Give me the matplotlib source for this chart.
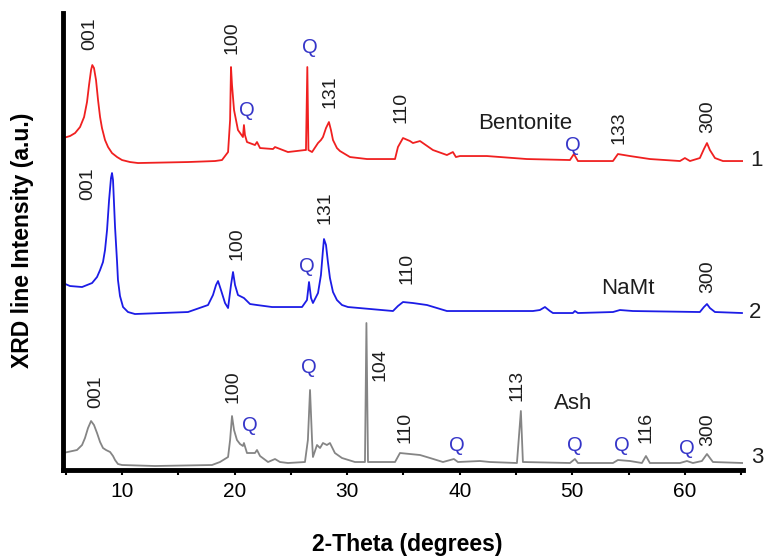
import matplotlib
matplotlib.use("Agg")
import matplotlib.pyplot as plt
from matplotlib.ticker import MultipleLocator

plt.rcParams['font.family'] = ['Liberation Sans', 'DejaVu Sans']

# XRD patterns (2-theta in degrees, intensity a.u. incl. stacking offset)
bent_x = [4.76, 5.38, 5.83, 6.27, 6.63, 6.89, 7.07, 7.25, 7.36, 7.51, 7.69, 7.87, 8.05, 8.22,
          8.49, 8.76, 9.11, 9.56, 10.0, 10.71, 11.42, 15.86, 18.26, 18.88, 19.42, 19.60, 19.68,
          19.77, 19.95, 20.30, 20.74, 20.83, 20.92, 21.10, 21.81, 21.99, 22.26, 23.41, 23.59,
          24.74, 26.25, 26.34, 26.46, 26.56, 26.88, 27.41, 27.67, 27.85, 28.12, 28.38, 28.56,
          28.74, 29.09, 29.36, 30.25, 31.76, 34.25, 34.51, 34.96, 35.58, 35.84, 36.47, 37.62,
          38.86, 39.39, 39.66, 40.02, 42.41, 45.96, 49.79, 50.14, 50.50, 53.61, 54.05, 55.12,
          56.89, 59.56, 60.00, 60.45, 61.33, 61.69, 61.96, 62.22, 62.67, 63.38, 65.16]
bent_y = [330, 332, 335, 341, 351, 366, 383, 398, 403, 400, 388, 368, 351, 340,
          328, 321, 315, 311, 308, 306, 305, 306, 307, 308, 316, 348, 401,
          383, 358, 338, 331, 343, 333, 326, 323, 326, 320, 319, 321,
          316, 318, 318, 401, 318, 316, 325, 328, 331, 340, 346, 338,
          328, 320, 317, 311, 309, 309, 321, 330, 327, 325, 327, 318,
          313, 316, 311, 312, 312, 309, 308, 314, 307, 307, 314, 312,
          309, 307, 310, 307, 310, 319, 325, 318, 310, 307, 307]

namt_x = [4.76, 5.38, 6.45, 7.34, 7.78, 8.05, 8.31, 8.49, 8.67, 8.85, 9.02, 9.11, 9.20, 9.38,
          9.56, 9.64, 9.82, 10.09, 10.53, 11.15, 15.86, 17.64, 18.08, 18.35, 18.53, 18.79,
          19.15, 19.42, 19.68, 19.86, 20.04, 20.30, 20.83, 21.37, 21.99, 23.32, 25.99, 26.43,
          26.61, 26.79, 26.96, 27.41, 27.67, 27.85, 27.94, 28.12, 28.29, 28.47, 28.74, 29.09,
          29.54, 30.07, 34.07, 34.51, 34.96, 35.84, 37.09, 38.86, 46.50, 47.12, 47.57, 48.01,
          48.28, 50.05, 50.23, 50.50, 53.61, 54.23, 55.38, 61.33, 61.69, 61.96, 62.22, 62.67,
          65.07]
namt_y = [185, 182, 181, 185, 191, 198, 206, 218, 238, 268, 290, 295, 288, 241,
          206, 188, 172, 161, 156, 154, 156, 163, 173, 183, 187, 178,
          165, 160, 183, 196, 183, 173, 170, 164, 163, 161, 161, 168,
          186, 170, 165, 175, 193, 218, 229, 223, 206, 190, 176, 168,
          163, 161, 157, 162, 166, 165, 163, 157, 157, 158, 161, 157,
          155, 155, 157, 155, 156, 158, 157, 156, 161, 164, 160, 156,
          155]

ash_x = [4.76, 6.00, 6.45, 6.71, 6.98, 7.25, 7.51, 7.78, 8.05, 8.31, 8.58, 8.94, 9.20, 9.38,
         9.64, 10.0, 12.93, 17.99, 18.70, 19.42, 19.60, 19.77, 19.95, 20.21, 20.48, 20.74,
         20.83, 21.10, 21.81, 21.99, 22.26, 22.97, 23.59, 24.03, 24.74, 26.25, 26.51, 26.70,
         26.88, 26.96, 27.32, 27.59, 27.85, 28.20, 28.47, 28.91, 29.54, 30.69, 31.58, 31.71,
         31.85, 34.25, 34.69, 35.58, 36.47, 37.36, 38.51, 39.48, 39.84, 41.79, 42.68, 45.08,
         45.43, 45.61, 49.79, 50.23, 50.50, 53.61, 54.05, 55.12, 56.18, 56.54, 56.89, 59.56,
         60.18, 60.71, 61.51, 61.96, 62.49, 65.16]
ash_y = [15, 18, 23, 30, 40, 47, 43, 35, 26, 20, 18, 16, 12, 8,
         4, 3, 2, 3, 6, 11, 28, 52, 38, 28, 24, 22,
         25, 15, 15, 18, 12, 6, 9, 6, 5, 6, 28, 78,
         28, 11, 23, 20, 25, 23, 25, 15, 10, 6, 6, 145,
         6, 6, 15, 14, 13, 10, 6, 9, 6, 7, 6, 5,
         57, 6, 5, 9, 5, 5, 8, 7, 5, 12, 5, 5,
         7, 5, 7, 14, 6, 5]

# peak labels: (text, 2-theta, height)
bent_labels = [("001", 7.16, 434), ("100", 19.77, 430), ("131", 28.47, 376), ("110", 34.78, 361),
               ("133", 54.14, 340), ("300", 62.04, 351)]
bent_q = [(26.70, 421), (21.10, 358), (50.05, 323)]
namt_labels = [("001", 6.98, 284), ("100", 20.21, 224), ("131", 28.03, 260), ("110", 35.31, 200),
               ("300", 62.04, 191)]
namt_q = [(26.43, 202)]
ash_labels = [("001", 7.69, 76), ("100", 19.86, 81), ("104", 32.91, 103), ("110", 35.13, 41),
              ("113", 45.08, 83), ("116", 56.54, 41), ("300", 62.04, 38)]
ash_q = [(21.37, 43), (26.61, 101), (39.75, 23), (50.23, 23), (54.41, 23), (60.18, 20)]

names = [("Bentonite", 45.79, 345), ("NaMt", 54.94, 180), ("Ash", 50.05, 65)]
numbers = [("1", 66.39, 308), ("2", 66.22, 156), ("3", 66.39, 11)]

fig = plt.figure(figsize=(7.64, 5.6), dpi=100)
ax = fig.add_axes([0.0825, 0.1607, 0.890, 0.816])

ax.plot(bent_x, bent_y, color='#f02020', lw=1.3)
ax.plot(namt_x, namt_y, color='#1c1ce6', lw=1.3)
ax.plot(ash_x, ash_y, color='#858585', lw=1.3)

txt_color = '#1e1e1e'
q_color = '#3535c8'
for labels in (bent_labels, namt_labels, ash_labels):
    for t, x, y in labels:
        ax.text(x, y, t, rotation=90, ha='center', va='center', fontsize=14, color=txt_color)
for qs in (bent_q, namt_q, ash_q):
    for x, y in qs:
        ax.text(x, y, "Q", ha='center', va='center', fontsize=14.5, color=q_color)
for t, x, y in names:
    ax.text(x, y, t, ha='center', va='center', fontsize=16, color=txt_color)
for t, x, y in numbers:
    ax.text(x, y, t, ha='center', va='center', fontsize=16, color=txt_color, clip_on=False)

ax.set_xlim(4.76, 65.16)
ax.set_ylim(-2, 455)
ax.xaxis.set_major_locator(MultipleLocator(10))
ax.xaxis.set_minor_locator(MultipleLocator(5))
ax.set_yticks([])
ax.tick_params(axis='x', which='both', direction='out', length=3.5, width=1.5)
ax.tick_params(axis='x', which='major', labelsize=15, pad=5)
for s in ('top', 'right'):
    ax.spines[s].set_visible(False)
ax.spines['left'].set_linewidth(3.5)
ax.spines['bottom'].set_linewidth(3.5)

fig.text(0.03, 0.57, "XRD line Intensity (a.u.)", rotation=90, ha='center', va='center',
         fontsize=16.5, fontweight='bold')
fig.text(0.533, 0.028, "2-Theta (degrees)", ha='center', va='center',
         fontsize=16.5, fontweight='bold')

fig.savefig("out.png", dpi=100)
